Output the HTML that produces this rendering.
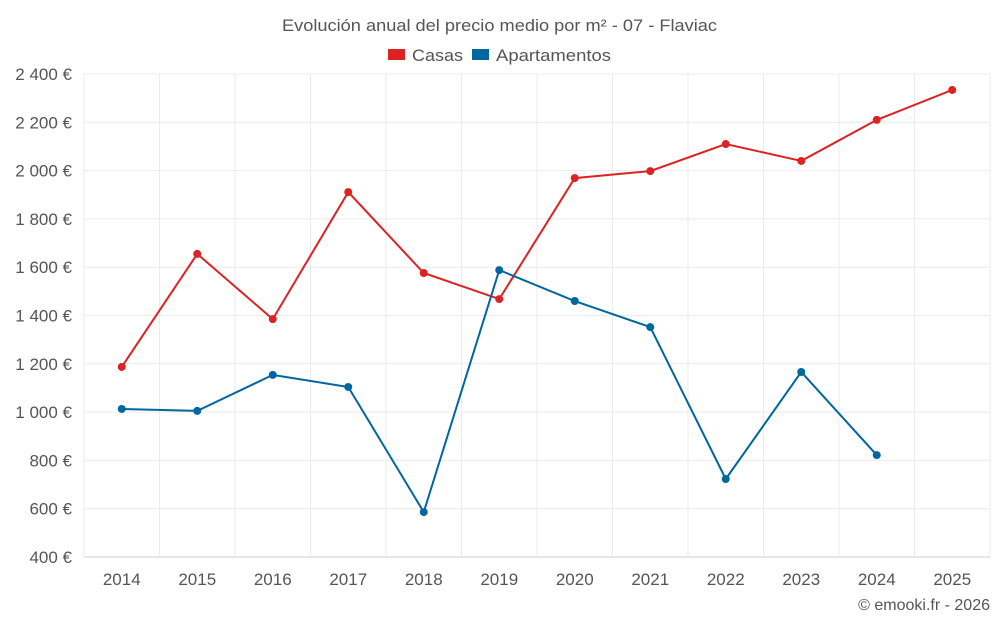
<!DOCTYPE html>
<html><head><meta charset="utf-8">
<style>
body{margin:0;background:#fff;font-family:"Liberation Sans",sans-serif;}
svg text{font-family:"Liberation Sans",sans-serif;}
</style></head>
<body>
<svg id="chart" width="1000" height="625" xmlns="http://www.w3.org/2000/svg">
<text x="282" y="31" textLength="435" lengthAdjust="spacingAndGlyphs" font-size="17" fill="#555">Evolución anual del precio medio por m² - 07 - Flaviac</text>
<g>
<g><rect x="388" y="49" width="17" height="11" fill="#dd2222"/><text x="412" y="61" textLength="51" lengthAdjust="spacingAndGlyphs" font-size="17" fill="#555">Casas</text></g>
<g><rect x="472" y="49" width="17" height="11" fill="#0066a0"/><text x="496" y="61" textLength="115" lengthAdjust="spacingAndGlyphs" font-size="17" fill="#555">Apartamentos</text></g>
</g>
<g id="grid"></g>
<g id="axes"></g>
<g id="series"></g>
<text x="990" y="610" text-anchor="end" font-size="16" fill="#555">© emooki.fr - 2026</text>
</svg>
<script>
const years=[2014,2015,2016,2017,2018,2019,2020,2021,2022,2023,2024,2025];
const casas=[1187,1655,1385,1911,1576,1468,1969,1998,2110,2040,2210,2334];
const apartamentos=[1013,1005,1154,1104,586,1588,1460,1352,723,1166,822,null];
const yTicks=[400,600,800,1000,1200,1400,1600,1800,2000,2200,2400];
const L=84,R=990,T=74,B=557,yMin=400,yMax=2400;
const ns="http://www.w3.org/2000/svg";
const step=(R-L)/years.length;
function xs(i){return L+step*(i+0.5);}
function ys(v){return B-(v-yMin)/(yMax-yMin)*(B-T);}
function mk(tag,attrs,parent){const e=document.createElementNS(ns,tag);for(const k in attrs)e.setAttribute(k,attrs[k]);parent.appendChild(e);return e;}
const grid=document.getElementById('grid'),axes=document.getElementById('axes'),ser=document.getElementById('series');
function fmt(v){const s=String(v);return (s.length>3?s.slice(0,s.length-3)+' '+s.slice(-3):s)+' €';}
yTicks.forEach(v=>{
 const l=mk('line',{x1:L,x2:R,y1:ys(v),y2:ys(v),stroke:v===yMin?'#ccc':'#ebebeb'},grid);
 
 
 const t=mk('text',{x:L-12,y:ys(v)+6,'text-anchor':'end','font-size':'17',fill:'#555'},axes);
 t.textContent=fmt(v);
 
 
});
for(let i=0;i<=years.length;i++){
 const x=L+step*i;
 const l=mk('line',{x1:x,x2:x,y1:T,y2:B,stroke:'#ebebeb'},grid);
 
 
}
years.forEach((y,i)=>{
 const t=mk('text',{x:xs(i),y:B+28,'text-anchor':'middle','font-size':'17',fill:'#555'},axes);
 t.textContent=y;
 
 
});
function draw(vals,color,name){
 const pts=[];vals.forEach((v,i)=>{if(v!=null)pts.push([xs(i),ys(v)]);});
 const p=mk('polyline',{points:pts.map(p=>p.join(',')).join(' '),fill:'none',stroke:color,'stroke-width':2},ser);
 
 
 pts.forEach(q=>{
  const c=mk('circle',{cx:q[0],cy:q[1],r:4,fill:color},ser);
  
  
 });
}
draw(casas,'#dd2222','casas');
draw(apartamentos,'#0066a0','apartamentos');
</script>
</body></html>
